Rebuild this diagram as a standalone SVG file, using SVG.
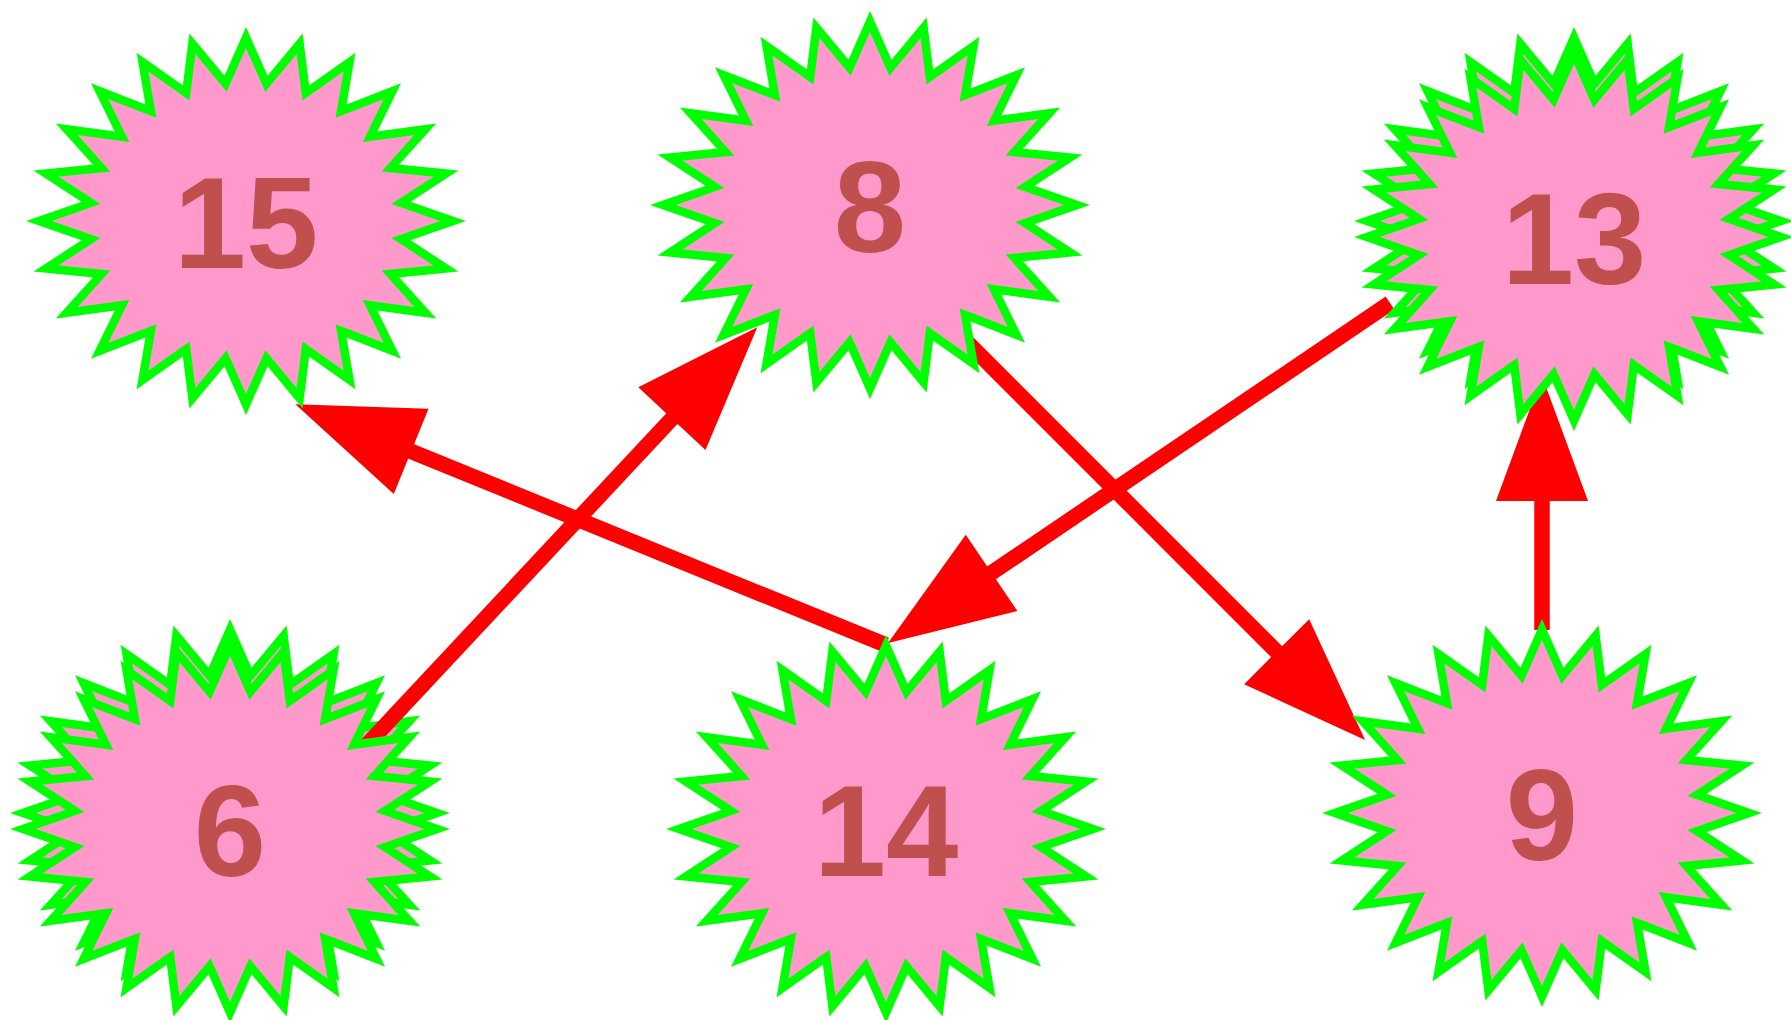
<svg xmlns="http://www.w3.org/2000/svg" width="1791" height="1020" viewBox="0 0 1791 1020">
<style>
.star{fill:#FF99CC;stroke:#00FF00;stroke-width:8.5;stroke-miterlimit:6}
.edge{stroke:#FF0000;stroke-width:15.5;fill:none;marker-end:url(#ah)}
.label{font-family:"Liberation Sans",Arial,sans-serif;font-weight:bold;font-size:130px;fill:#C0504D;text-anchor:middle}
</style>
<defs>
<path id="star" d="M207,0 L155,-18.1 L200,-47.5 L144.4,-53 L179.3,-91.8 L124,-84.3 L146.4,-129.8 L95.1,-109.9 L103.5,-158.9 L59.8,-128 L53.6,-177.3 L20.4,-137.3 L0,-183.5 L-20.4,-137.3 L-53.6,-177.3 L-59.8,-128 L-103.5,-158.9 L-95.1,-109.9 L-146.4,-129.8 L-124,-84.3 L-179.3,-91.8 L-144.4,-53 L-200,-47.5 L-155,-18.1 L-207,0 L-155,18.1 L-200,47.5 L-144.4,53 L-179.3,91.8 L-124,84.3 L-146.4,129.8 L-95.1,109.9 L-103.5,158.9 L-59.8,128 L-53.6,177.3 L-20.4,137.3 L0,183.5 L20.4,137.3 L53.6,177.3 L59.8,128 L103.5,158.9 L95.1,109.9 L146.4,129.8 L124,84.3 L179.3,91.8 L144.4,53 L200,47.5 L155,18.1 Z"/>
<marker id="ah" markerUnits="userSpaceOnUse" viewBox="0 -50 130 100" markerWidth="130" markerHeight="100" refX="5" refY="0" orient="auto" overflow="visible">
<path d="M0,-46 L125,0 L0,46 Z" fill="#FF0000"/>
</marker>
<mask id="outside6" maskUnits="userSpaceOnUse" x="0" y="0" width="1791" height="1020">
<rect x="0" y="0" width="1791" height="1020" fill="#FFFFFF"/>
<use href="#star" x="230" y="829" fill="#000000" stroke="#000000" stroke-width="8.5"/>
</mask>
</defs>
<rect x="0" y="0" width="1791" height="1020" fill="#FFFFFF"/>
<g id="node6">
<use href="#star" class="star" x="230" y="813"/>
<use href="#star" class="star" x="230" y="829"/>
<text class="label" x="230" y="875.5">6</text>
</g>
<g id="edges">
<line id="e14_15" class="edge" x1="886" y1="645" x2="406.5" y2="449.5"/>
<line id="e6_8" class="edge" x1="362" y1="750" x2="675.3" y2="415" mask="url(#outside6)"/>
<line id="e13_14" class="edge" x1="1390" y1="303" x2="987.4" y2="575.7"/>
<line id="e8_9" class="edge" x1="968" y1="343" x2="1280.2" y2="655.2"/>
<line id="e9_13" class="edge" x1="1542" y1="630" x2="1542" y2="496"/>
</g>
<g id="node15">
<use href="#star" class="star" x="246" y="221"/>
<text class="label" x="246" y="267.5">15</text>
</g>
<g id="node8">
<use href="#star" class="star" x="870" y="205"/>
<text class="label" x="870" y="251.5">8</text>
</g>
<g id="node13">
<use href="#star" class="star" x="1574" y="221"/>
<use href="#star" class="star" x="1574" y="237"/>
<text class="label" x="1574" y="283.5">13</text>
</g>
<g id="node14">
<use href="#star" class="star" x="886" y="829"/>
<text class="label" x="886" y="875.5">14</text>
</g>
<g id="node9">
<use href="#star" class="star" x="1542" y="813"/>
<text class="label" x="1542" y="859.5">9</text>
</g>
</svg>
